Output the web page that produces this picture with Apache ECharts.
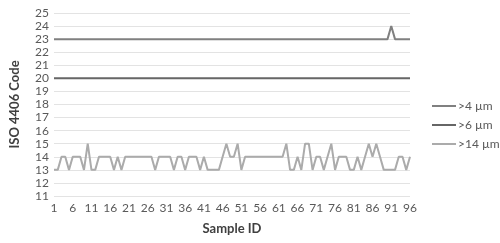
<!DOCTYPE html>
<html>
<head>
<meta charset="utf-8">
<script src="https://cdn.jsdelivr.net/npm/echarts@6/dist/echarts.min.js"></script>
<style>html,body{margin:0;padding:0;background:#fff}#c{width:500px;height:243px}</style>
</head>
<body>
<div id="c"></div>
<script>
var categories = [];
for (var i = 1; i <= 96; i++) categories.push(String(i));
var seriesNames = ['>4 µm', '>6 µm', '>14 µm'];
var gt4 = [23,23,23,23,23,23,23,23,23,23, 23,23,23,23,23,23,23,23,23,23,
           23,23,23,23,23,23,23,23,23,23, 23,23,23,23,23,23,23,23,23,23,
           23,23,23,23,23,23,23,23,23,23, 23,23,23,23,23,23,23,23,23,23,
           23,23,23,23,23,23,23,23,23,23, 23,23,23,23,23,23,23,23,23,23,
           23,23,23,23,23,23,23,23,23,23, 24,23,23,23,23,23];
var gt6 = [20,20,20,20,20,20,20,20,20,20, 20,20,20,20,20,20,20,20,20,20,
           20,20,20,20,20,20,20,20,20,20, 20,20,20,20,20,20,20,20,20,20,
           20,20,20,20,20,20,20,20,20,20, 20,20,20,20,20,20,20,20,20,20,
           20,20,20,20,20,20,20,20,20,20, 20,20,20,20,20,20,20,20,20,20,
           20,20,20,20,20,20,20,20,20,20, 20,20,20,20,20,20];
var gt14 = [13,13,14,14,13,14,14,14,13,15, 13,13,14,14,14,14,13,14,13,14,
            14,14,14,14,14,14,14,13,14,14, 14,14,13,14,14,13,14,14,14,13,
            14,13,13,13,13,14,15,14,14,15, 13,14,14,14,14,14,14,14,14,14,
            14,14,15,13,13,14,13,15,15,13, 14,14,13,14,15,13,14,14,14,13,
            13,14,13,14,15,14,15,14,13,13, 13,13,14,14,13,14];
var yTicks = [11,12,13,14,15,16,17,18,19,20,21,22,23,24,25];
var colors = ['#808080', '#666666', '#ababab'];

var chart = echarts.init(document.getElementById('c'), null, {renderer: 'canvas'});
var font = 'Lato, "Open Sans", sans-serif';
chart.setOption({
  animation: false,
  textStyle: {fontFamily: font},
  grid: {left: 49, right: 90, top: 13, bottom: 47, containLabel: false},
  legend: {
    orient: 'vertical', left: 427, top: 95, itemWidth: 24, itemHeight: 2, itemGap: 7,
    icon: 'rect',
    textStyle: {color: '#595959', fontSize: 12, fontFamily: font, padding: [0,0,0,-3]},
    data: seriesNames
  },
  xAxis: {
    type: 'category', data: categories, boundaryGap: false,
    name: 'Sample ID', nameLocation: 'middle', nameGap: 26,
    nameTextStyle: {fontWeight: 'bold', fontSize: 13, color: '#404040', fontFamily: font},
    axisLine: {show: false}, axisTick: {show: false},
    axisLabel: {interval: 4, color: '#595959', fontSize: 12, margin: 6, fontFamily: font},
    splitLine: {show: false}
  },
  yAxis: {
    type: 'value', min: yTicks[0], max: yTicks[yTicks.length-1], interval: 1,
    name: 'ISO 4406 Code', nameLocation: 'middle', nameGap: 33,
    nameTextStyle: {fontWeight: 'bold', fontSize: 13, color: '#404040', fontFamily: font},
    axisLine: {show: false}, axisTick: {show: false},
    axisLabel: {color: '#595959', fontSize: 12, margin: 5, fontFamily: font},
    splitLine: {lineStyle: {color: '#e3e3e3', width: 1}}
  },
  series: [
    {name: seriesNames[0], type: 'line', data: gt4, symbol: 'none', lineStyle: {color: colors[0], width: 2}, itemStyle: {color: colors[0]}},
    {name: seriesNames[1], type: 'line', data: gt6, symbol: 'none', lineStyle: {color: colors[1], width: 2}, itemStyle: {color: colors[1]}},
    {name: seriesNames[2], type: 'line', data: gt14, symbol: 'none', lineStyle: {color: colors[2], width: 2}, itemStyle: {color: colors[2]}}
  ]
});
</script>
</body>
</html>
